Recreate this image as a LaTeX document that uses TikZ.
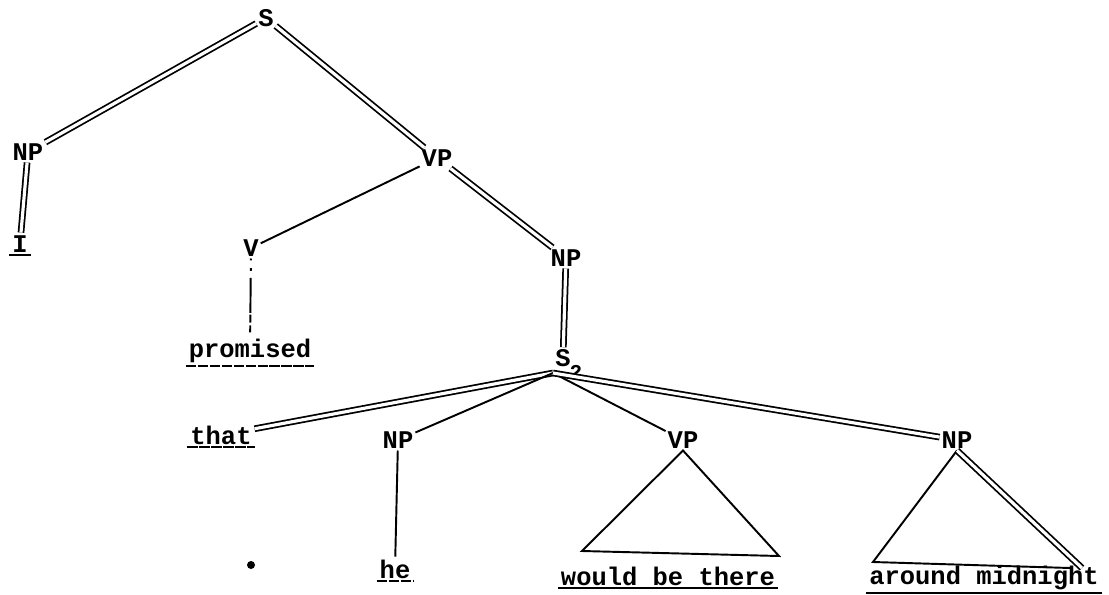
\documentclass[tikz,border=0pt]{standalone}
\usepackage{fontspec}
\setmainfont{Liberation Mono}
\usetikzlibrary{calc}

\begin{document}
\begin{tikzpicture}[x=0.02cm, y=-0.02cm, font=\fontsize{14.5}{16}\selectfont\bfseries,
    cat/.style={inner sep=1pt, anchor=center},
    word/.style={inner sep=1.5pt, anchor=center},
    dbl/.style={double, double distance=1.8pt, line width=1pt},
    sgl/.style={line width=1.1pt},
    uline/.style={line width=1.1pt},
    broken/.style={line width=1.1pt, dash pattern=on 6pt off 0.8pt}
]
\useasboundingbox (0,0) rectangle (1109,595);

% categories
\node[cat] (s) at (266,18) {S};
\node[cat] (np1) at (28,152) {NP};
\node[cat] (vp1) at (437,158) {VP};
\node[cat] (v) at (251,248) {V};
\node[cat] (np2) at (566,258) {NP};
\node[cat] (s2) at (563,358) {S};
\node[font=\fontsize{12}{14}\selectfont\bfseries, inner sep=0pt] (s2idx) at (576,372) {2};
\node[cat] (np3) at (398,440) {NP};
\node[cat] (vp2) at (683,440) {VP};
\node[cat] (np4) at (957,440) {NP};

% words
\node[word] (wi) at (20,244) {I};
\node[word] (wpromised) at (250,351) {promised};
\node[word] (wthat) at (221,435) {that};
\node[word] (whe) at (395,569) {he};
\node[word] (wthere) at (668,576) {would be there};
\node[word] (wmidnight) at (984,578) {around midnight};

\coordinate (s2root) at (553,373);
\coordinate (vpl) at (582,551);
\coordinate (vpr) at (779,556);
\coordinate (npl) at (873,562);
\coordinate (npr) at (1082,568);

% branches
\draw[dbl] (s) -- (np1);
\draw[dbl] (s) -- (vp1);
\draw[dbl] (np1) -- (wi);
\draw[sgl] (vp1) -- (v);
\draw[dbl] (vp1) -- (np2);
\draw[sgl, dash pattern=on 1pt off 4.5pt on 1.5pt off 4pt on 20pt] (v) -- (wpromised);
\draw[dbl] (np2) -- (s2);
\draw[dbl] (s2root) -- (wthat);
\draw[sgl] (s2root) -- (np3);
\draw[sgl] (s2root) -- (vp2);
\draw[dbl] (s2root) -- (np4);
\draw[sgl] (np3) -- (whe);

% triangles
\draw[sgl] (vp2.south) -- (vpl) -- (vpr) -- cycle;
\draw[sgl] (np4.south) -- (npl) -- ($(npr)+(-12,0)$);
\draw[dbl] (np4.south) -- (npr);

% underlines
\draw[uline] (wi.south west) -- (wi.south east);
\draw[broken] (wpromised.south west) -- (wpromised.south east);
\draw[broken] (wthat.south west) -- (wthat.south east);
\draw[broken] (whe.south west) -- (whe.south east);
\draw[uline] (wthere.south west) -- (wthere.south east);
\draw[uline] (wmidnight.south west) -- (wmidnight.south east);

% stray mark
\fill (251,565) circle (4);
\end{tikzpicture}
\end{document}
